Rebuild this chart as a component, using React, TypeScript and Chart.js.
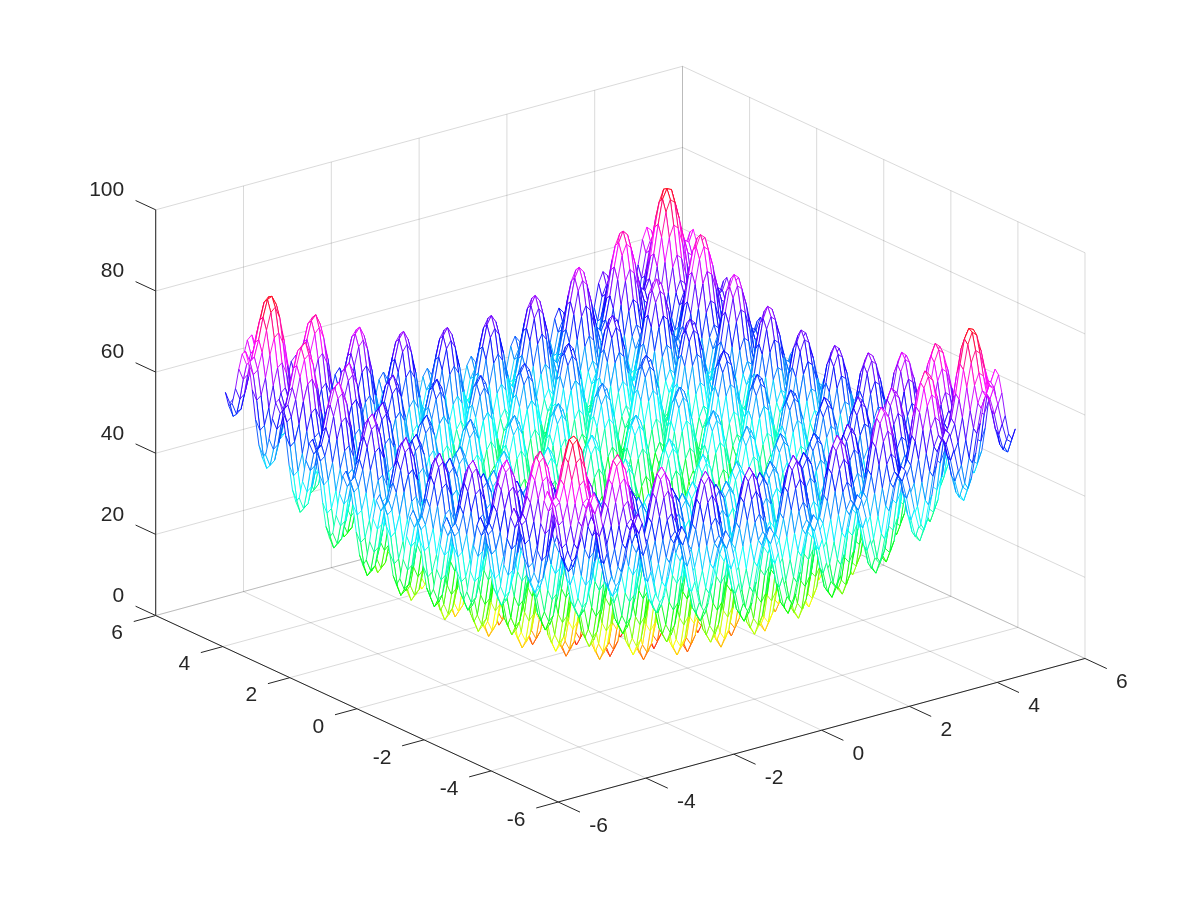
import React, { useEffect, useRef } from "react";
import { Chart, registerables } from "chart.js";
Chart.register(...registerables);

const xTicks = [-6, -4, -2, 0, 2, 4, 6];
const yTicks = [-6, -4, -2, 0, 2, 4, 6];
const zTicks = [0, 20, 40, 60, 80, 100];
const gridAbs = [0,0.1,0.2,0.3,0.4,0.5,0.6,0.7,0.8,0.9,1,1.1,1.2,1.3,1.4,1.5,1.6,1.7,1.8,1.9,2,2.1,2.2,2.3,2.4,2.5,2.6,2.7,2.8,2.9,3,3.1,3.2,3.3,3.4,3.5,3.6,3.7,3.8,3.9,4,4.1,4.2,4.3,4.4,4.5,4.6,4.7,4.8,4.9,5,5.1];
const heightRows = [
[0],
[1.9,3.8],
[7,8.9,13.9],
[13.2,15.1,20.1,26.4],
[18.3,20.2,25.2,31.4,36.5],
[20.3,22.2,27.2,33.4,38.5,40.5],
[18.5,20.4,25.4,31.6,36.7,38.7,36.9],
[13.6,15.5,20.5,26.8,31.8,33.8,32,27.2],
[7.6,9.5,14.5,20.7,25.8,27.8,26,21.1,15.1],
[2.7,4.6,9.7,15.9,21,23,21.2,16.3,10.3,5.4],
[1,2.9,8,14.2,19.3,21.3,19.5,14.6,8.6,3.7,2],
[3.1,5,10.1,16.3,21.4,23.4,21.6,16.7,10.7,5.8,4.1,6.2],
[8.4,10.3,15.3,21.5,26.6,28.6,26.8,21.9,15.9,11.1,9.4,11.5,16.7],
[14.8,16.7,21.7,28,33,35,33.2,28.4,22.3,17.5,15.8,17.9,23.1,29.6],
[20.1,22,27,33.2,38.3,40.3,38.5,33.6,27.6,22.8,21.1,23.2,28.4,34.8,40.1],
[22.3,24.2,29.2,35.4,40.5,42.5,40.7,35.8,29.8,25,23.3,25.4,30.6,37,42.3,44.5],
[20.7,22.6,27.6,33.8,38.9,40.9,39.1,34.2,28.2,23.4,21.7,23.8,29,35.4,40.7,42.9,41.3],
[16,17.9,22.9,29.2,34.2,36.2,34.4,29.6,23.5,18.7,17,19.1,24.3,30.8,36,38.2,36.6,32],
[10.2,12.1,17.1,23.3,28.4,30.4,28.6,23.7,17.7,12.9,11.2,13.3,18.5,24.9,30.2,32.4,30.8,26.1,20.3],
[5.5,7.4,12.5,18.7,23.8,25.8,24,19.1,13.1,8.2,6.5,8.6,13.9,20.3,25.6,27.8,26.2,21.5,15.7,11],
[4,5.9,11,17.2,22.3,24.3,22.5,17.6,11.6,6.7,5,7.1,12.4,18.8,24.1,26.3,24.7,20,14.2,9.5,8],
[6.3,8.2,13.3,19.5,24.6,26.6,24.8,19.9,13.9,9,7.3,9.4,14.7,21.1,26.4,28.6,27,22.3,16.5,11.8,10.3,12.6],
[11.8,13.7,18.7,24.9,30,32,30.2,25.3,19.3,14.5,12.8,14.9,20.1,26.5,31.8,34,32.4,27.7,21.9,17.3,15.8,18.1,23.5],
[18.4,20.3,25.3,31.6,36.6,38.6,36.8,32,25.9,21.1,19.4,21.5,26.7,33.2,38.4,40.6,39,34.4,28.5,23.9,22.4,24.7,30.1,36.8],
[23.9,25.8,30.8,37,42.1,44.1,42.3,37.4,31.4,26.6,24.9,27,32.2,38.6,43.9,46.1,44.5,39.8,34,29.4,27.9,30.2,35.6,42.2,47.7],
[26.3,28.2,33.2,39.4,44.5,46.5,44.7,39.8,33.8,29,27.3,29.4,34.6,41,46.3,48.5,46.9,42.2,36.4,31.8,30.3,32.6,38,44.6,50.1,52.5],
[24.9,26.8,31.8,38,43.1,45.1,43.3,38.4,32.4,27.6,25.9,28,33.2,39.6,44.9,47.1,45.5,40.8,35,30.4,28.9,31.2,36.6,43.2,48.7,51.1,49.7],
[20.4,22.3,27.3,33.6,38.6,40.6,38.8,34,27.9,23.1,21.4,23.5,28.7,35.2,40.4,42.6,41,36.4,30.5,25.9,24.4,26.7,32.1,38.8,44.2,46.6,45.2,40.8],
[14.8,16.7,21.7,27.9,33,35,33.2,28.3,22.3,17.5,15.8,17.9,23.1,29.5,34.8,37,35.4,30.7,24.9,20.3,18.8,21.1,26.5,33.1,38.6,41,39.6,35.1,29.5],
[10.3,12.2,17.3,23.5,28.6,30.6,28.8,23.9,17.9,13,11.3,13.4,18.7,25.1,30.4,32.6,31,26.3,20.5,15.8,14.3,16.6,22.1,28.7,34.2,36.6,35.2,30.7,25.1,20.6],
[9,10.9,16,22.2,27.3,29.3,27.5,22.6,16.6,11.7,10,12.1,17.4,23.8,29.1,31.3,29.7,25,19.2,14.5,13,15.3,20.8,27.4,32.9,35.3,33.9,29.4,23.8,19.3,18],
[11.5,13.4,18.5,24.7,29.8,31.8,30,25.1,19.1,14.2,12.5,14.6,19.9,26.3,31.6,33.8,32.2,27.5,21.7,17,15.5,17.8,23.3,29.9,35.4,37.8,36.4,31.9,26.3,21.8,20.5,23],
[17.2,19.1,24.1,30.3,35.4,37.4,35.6,30.7,24.7,19.9,18.2,20.3,25.5,31.9,37.2,39.4,37.8,33.1,27.3,22.7,21.2,23.5,28.9,35.5,41,43.4,42,37.5,31.9,27.5,26.2,28.7,34.3],
[24,25.9,30.9,37.2,42.2,44.2,42.4,37.6,31.5,26.7,25,27.1,32.3,38.8,44,46.2,44.6,40,34.1,29.5,28,30.3,35.7,42.4,47.8,50.2,48.8,44.4,38.7,34.3,33,35.5,41.1,48],
[29.7,31.6,36.6,42.8,47.9,49.9,48.1,43.2,37.2,32.4,30.7,32.8,38,44.4,49.7,51.9,50.3,45.6,39.8,35.2,33.7,36,41.4,48,53.5,55.9,54.5,50,44.4,40,38.7,41.2,46.8,53.6,59.3],
[32.3,34.2,39.2,45.4,50.5,52.5,50.7,45.8,39.8,35,33.3,35.4,40.6,47,52.3,54.5,52.9,48.2,42.4,37.8,36.3,38.6,44,50.6,56.1,58.5,57.1,52.6,47,42.6,41.3,43.8,49.4,56.2,61.9,64.5],
[31.1,33,38,44.2,49.3,51.3,49.5,44.6,38.6,33.8,32.1,34.2,39.4,45.8,51.1,53.3,51.7,47,41.2,36.6,35.1,37.4,42.8,49.4,54.9,57.3,55.9,51.4,45.8,41.4,40.1,42.6,48.2,55,60.7,63.3,62.1],
[26.8,28.7,33.7,40,45,47,45.2,40.4,34.3,29.5,27.8,29.9,35.1,41.6,46.8,49,47.4,42.8,36.9,32.3,30.8,33.1,38.5,45.2,50.6,53,51.6,47.2,41.5,37.1,35.8,38.3,43.9,50.8,56.4,59,57.8,53.6],
[21.4,23.3,28.3,34.5,39.6,41.6,39.8,34.9,28.9,24.1,22.4,24.5,29.7,36.1,41.4,43.6,42,37.3,31.5,26.9,25.4,27.7,33.1,39.7,45.2,47.6,46.2,41.7,36.1,31.7,30.4,32.9,38.5,45.3,51,53.6,52.4,48.1,42.7],
[17.1,19,24.1,30.3,35.4,37.4,35.6,30.7,24.7,19.8,18.1,20.2,25.5,31.9,37.2,39.4,37.8,33.1,27.3,22.6,21.1,23.4,28.9,35.5,41,43.4,42,37.5,31.9,27.4,26.1,28.6,34.3,41.1,46.8,49.4,48.2,43.9,38.5,34.2],
[16,17.9,23,29.2,34.3,36.3,34.5,29.6,23.6,18.7,17,19.1,24.4,30.8,36.1,38.3,36.7,32,26.2,21.5,20,22.3,27.8,34.4,39.9,42.3,40.9,36.4,30.8,26.3,25,27.5,33.2,40,45.7,48.3,47.1,42.8,37.4,33.1,32],
[18.7,20.6,25.7,31.9,37,39,37.2,32.3,26.3,21.4,19.7,21.8,27.1,33.5,38.8,41,39.4,34.7,28.9,24.2,22.7,25,30.5,37.1,42.6,45,43.6,39.1,33.5,29,27.7,30.2,35.9,42.7,48.4,51,49.8,45.5,40.1,35.8,34.7,37.4],
[24.6,26.5,31.5,37.7,42.8,44.8,43,38.1,32.1,27.3,25.6,27.7,32.9,39.3,44.6,46.8,45.2,40.5,34.7,30.1,28.6,30.9,36.3,42.9,48.4,50.8,49.4,44.9,39.3,34.9,33.6,36.1,41.7,48.5,54.2,56.8,55.6,51.3,45.9,41.7,40.6,43.3,49.1],
[31.6,33.5,38.5,44.8,49.8,51.8,50,45.2,39.1,34.3,32.6,34.7,39.9,46.4,51.6,53.8,52.2,47.6,41.7,37.1,35.6,37.9,43.3,50,55.4,57.8,56.4,52,46.3,41.9,40.6,43.1,48.7,55.6,61.2,63.8,62.6,58.4,52.9,48.7,47.6,50.3,56.1,63.2],
[37.5,39.4,44.4,50.6,55.7,57.7,55.9,51,45,40.2,38.5,40.6,45.8,52.2,57.5,59.7,58.1,53.4,47.6,43,41.5,43.8,49.2,55.8,61.3,63.7,62.3,57.8,52.2,47.8,46.5,49,54.6,61.4,67.1,69.7,68.5,64.2,58.8,54.6,53.5,56.2,62,69,74.9],
[40.3,42.2,47.2,53.4,58.5,60.5,58.7,53.8,47.8,43,41.3,43.4,48.6,55,60.3,62.5,60.9,56.2,50.4,45.8,44.3,46.6,52,58.6,64.1,66.5,65.1,60.6,55,50.6,49.3,51.8,57.4,64.2,69.9,72.5,71.3,67,61.6,57.4,56.3,59,64.8,71.8,77.7,80],
[39.3,41.2,46.2,52.4,57.5,59.5,57.7,52.8,46.8,42,40.3,42.4,47.6,54,59.3,61.5,59.9,55.2,49.4,44.8,43.3,45.6,51,57.6,63.1,65.5,64.1,59.6,54,49.6,48.3,50.8,56.4,63.2,68.9,71.5,70.3,66,60.6,56.4,55.3,58,63.8,70.8,76.7,79.5,78.5],
[35.2,37.1,42.1,48.4,53.4,55.4,53.6,48.8,42.7,37.9,36.2,38.3,43.5,50,55.2,57.4,55.8,51.2,45.3,40.7,39.2,41.5,46.9,53.6,59,61.4,60,55.6,49.9,45.5,44.2,46.7,52.3,59.2,64.8,67.4,66.2,62,56.5,52.3,51.2,53.9,59.7,66.8,72.6,75.4,74.4,70.4],
[30,31.9,36.9,43.1,48.2,50.2,48.4,43.5,37.5,32.7,31,33.1,38.3,44.7,50,52.2,50.6,45.9,40.1,35.5,34,36.3,41.7,48.3,53.8,56.2,54.8,50.3,44.7,40.3,39,41.5,47.1,53.9,59.6,62.2,61,56.7,51.3,47.1,46,48.7,54.5,61.5,67.4,70.2,69.2,65.1,59.9],
[25.9,27.8,32.9,39.1,44.2,46.2,44.4,39.5,33.5,28.6,26.9,29,34.3,40.7,46,48.2,46.6,41.9,36.1,31.4,29.9,32.2,37.7,44.3,49.8,52.2,50.8,46.3,40.7,36.2,34.9,37.4,43.1,49.9,55.6,58.2,57,52.7,47.3,43,41.9,44.6,50.5,57.5,63.4,66.2,65.2,61.1,55.9,51.8],
[25,26.9,32,38.2,43.3,45.3,43.5,38.6,32.6,27.7,26,28.1,33.4,39.8,45.1,47.3,45.7,41,35.2,30.5,29,31.3,36.8,43.4,48.9,51.3,49.9,45.4,39.8,35.3,34,36.5,42.2,49,54.7,57.3,56.1,51.8,46.4,42.1,41,43.7,49.6,56.6,62.5,65.3,64.3,60.2,55,50.9,50],
[27.9,29.8,34.9,41.1,46.2,48.2,46.4,41.5,35.5,30.6,28.9,31,36.3,42.7,48,50.2,48.6,43.9,38.1,33.4,31.9,34.2,39.7,46.3,51.8,54.2,52.8,48.3,42.7,38.2,36.9,39.4,45.1,51.9,57.6,60.2,59,54.7,49.3,45,43.9,46.6,52.5,59.5,65.4,68.2,67.2,63.1,57.9,53.8,52.9,55.8],
];

const GRID_N = 102; // cell count per side
const BLOCK = 6;
const Z_MAX = 80.5;

const project = (x: number, y: number, z: number) => ({
  x: 620.35 + 43.9 * x - 33.54 * y,
  y: 637 - 11.96 * x - 15.54 * y - 4.057 * z,
});
const GAP = { x: NaN, y: NaN };
const coord = (a: number) => (a < 51 ? -gridAbs[51 - a] : gridAbs[a - 51]);
const height = (a: number, b: number) => {
  const i = Math.abs(a - 51), j = Math.abs(b - 51);
  return i >= j ? heightRows[i][j] : heightRows[j][i];
};
const colour = (z: number) => `hsl(${Math.round(Math.min(z / Z_MAX, 0.985) * 360)},100%,50%)`;
const meshPoint = (a: number, b: number) => project(coord(a), coord(b), height(a, b));

function meshDatasets() {
  const out: any[] = [];
  for (let a = 0; a < GRID_N; a++) {
    for (let b0 = 0; b0 < GRID_N; b0 += BLOCK) {
      const b1 = Math.min(b0 + BLOCK, GRID_N);
      const outline: any[] = [];
      for (let b = b0; b <= b1; b++) outline.push(meshPoint(a, b));
      for (let b = b1; b >= b0; b--) outline.push(meshPoint(a + 1, b));
      const pts: any[] = [];
      const cols: string[] = [];
      const add = (p: any, c: string) => { pts.push(p); cols.push(c); };
      for (const row of [a, a + 1]) {
        for (let b = b0; b <= b1; b++) {
          const zNext = b < b1 ? height(row, b + 1) : height(row, b);
          add(meshPoint(row, b), colour((height(row, b) + zNext) / 2));
        }
        add(GAP, "#fff");
      }
      for (let b = b0; b <= b1; b++) {
        add(meshPoint(a, b), colour((height(a, b) + height(a + 1, b)) / 2));
        add(meshPoint(a + 1, b), "#fff");
        add(GAP, "#fff");
      }
      out.push({
        data: pts, showLine: true, fill: false, pointRadius: 0, borderWidth: 0.9, borderColor: "#00f",
        spanGaps: false, tension: 0, segment: { borderColor: (c: any) => cols[c.p0DataIndex] },
      });
      out.push({
        data: outline, showLine: true, fill: "shape", backgroundColor: "#ffffff", pointRadius: 0,
        borderWidth: 0, borderColor: "rgba(0,0,0,0)", tension: 0,
      });
    }
  }
  return out;
}

const seg = (pts: any[], a: any, b: any) => { pts.push(a, b, GAP); };
function frameDatasets() {
  const base = { showLine: true, fill: false, pointRadius: 0, spanGaps: false, tension: 0 };
  const grey = "rgba(38,38,38,0.17)";
  const leftWall: any[] = [], rightWall: any[] = [], floor: any[] = [], axes: any[] = [], ticks: any[] = [];
  for (const x of xTicks) seg(leftWall, project(x, 6, 0), project(x, 6, 100));
  for (const z of zTicks) seg(leftWall, project(-6, 6, z), project(6, 6, z));
  for (const y of yTicks) seg(rightWall, project(6, y, 0), project(6, y, 100));
  for (const z of zTicks) seg(rightWall, project(6, 6, z), project(6, -6, z));
  for (const x of xTicks) seg(floor, project(x, -6, 0), project(x, 6, 0));
  for (const y of yTicks) seg(floor, project(-6, y, 0), project(6, y, 0));
  seg(axes, project(-6, 6, 0), project(-6, 6, 100));
  seg(axes, project(-6, 6, 0), project(-6, -6, 0));
  seg(axes, project(-6, -6, 0), project(6, -6, 0));
  for (const z of zTicks) seg(ticks, project(-6, 6, z), project(-6, 6.6, z));
  for (const y of yTicks) seg(ticks, project(-6, y, 0), project(-6.5, y, 0));
  for (const x of xTicks) seg(ticks, project(x, -6, 0), project(x, -6.65, 0));
  return [
    { ...base, data: axes, borderColor: "#262626", borderWidth: 1 },
    { ...base, data: ticks, borderColor: "#262626", borderWidth: 1 },
    { ...base, data: floor, borderColor: grey, borderWidth: 1 },
    { ...base, data: rightWall, borderColor: grey, borderWidth: 1 },
    { ...base, data: leftWall, borderColor: grey, borderWidth: 1 },
  ];
}

const tickText = {
  id: "tickText",
  afterDraw(chart: any) {
    const { ctx, scales } = chart;
    const put = (p: any, dx: number, dy: number, s: string, align: CanvasTextAlign) => {
      ctx.textAlign = align;
      ctx.fillText(s, scales.x.getPixelForValue(p.x) + dx, scales.y.getPixelForValue(p.y) + dy);
    };
    ctx.save();
    ctx.font = '21px "Liberation Sans"';
    ctx.fillStyle = "#262626";
    ctx.textBaseline = "middle";
    for (const z of zTicks) put(project(-6, 6, z), -31.5, -19.5, String(z), "right");
    for (const y of yTicks) put(project(-6, y, 0), -32.7, 18, String(y), "right");
    for (const x of xTicks) put(project(x, -6, 0), 31, 24, String(x), "left");
    ctx.restore();
  },
};

export default function App() {
  const ref = useRef<HTMLCanvasElement>(null);
  useEffect(() => {
    const chart = new Chart(ref.current!, {
      type: "scatter",
      data: { datasets: [...frameDatasets().slice(0, 2), ...meshDatasets(), ...frameDatasets().slice(2)] },
      options: {
        animation: false,
        responsive: false,
        devicePixelRatio: 1,
        events: [],
        layout: { padding: 0 },
        plugins: { legend: { display: false }, tooltip: { enabled: false }, title: { display: false } },
        scales: {
          x: { type: "linear", min: 0, max: 1200, display: false },
          y: { type: "linear", min: 0, max: 900, reverse: true, display: false },
        },
      },
      plugins: [tickText],
    } as any);
    return () => chart.destroy();
  }, []);
  return <canvas ref={ref} width={1200} height={900} style={{ position: "absolute", left: 0, top: 0, display: "block" }} />;
}
